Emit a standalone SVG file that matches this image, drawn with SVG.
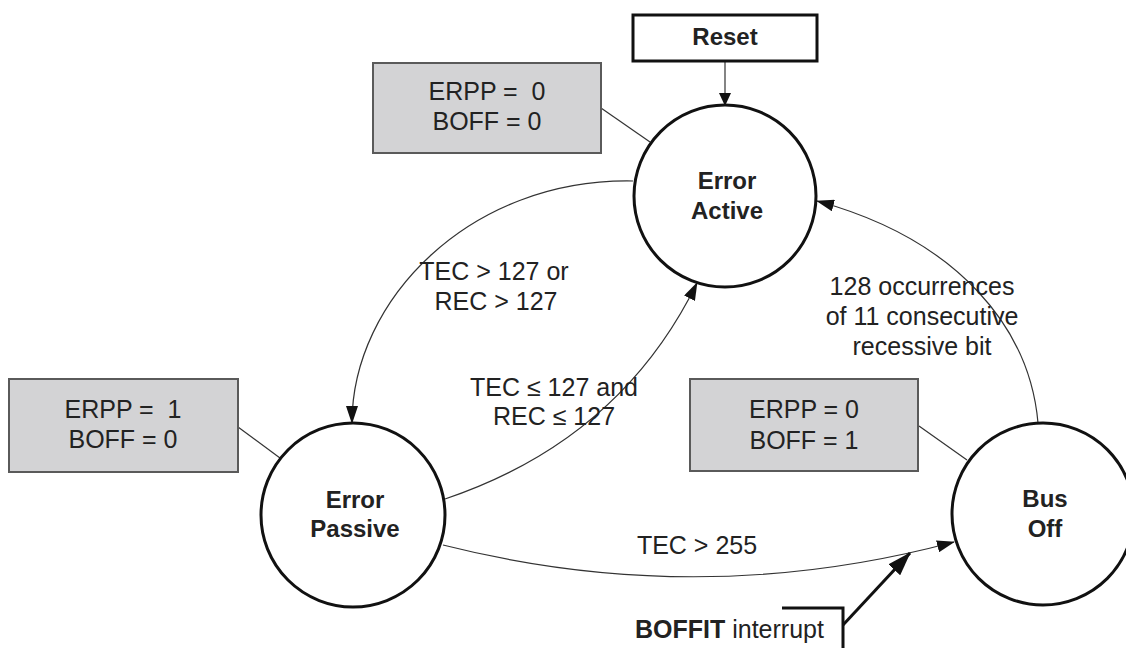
<svg xmlns="http://www.w3.org/2000/svg" width="1126" height="648" viewBox="0 0 1126 648">
  <style>
    .state { fill: #ffffff; stroke: #111111; stroke-width: 3; }
    .flags { fill: #d3d3d5; stroke: #5a5a5a; stroke-width: 2; }
    .resetbox { fill: #ffffff; stroke: #111111; stroke-width: 3; }
    .edge { fill: none; stroke: #333333; stroke-width: 1.2; }
    .thick { fill: none; stroke: #111111; stroke-width: 3; }
    .t { font-family: "Liberation Sans", Arial, Helvetica, sans-serif; font-size: 25px; fill: #222222; text-anchor: middle; white-space: pre; }
    .b { font-weight: bold; font-size: 24px; }
  </style>
  <defs>
    <marker id="arr" viewBox="0 0 18 12" markerWidth="18" markerHeight="12" refX="17" refY="6" orient="auto" markerUnits="userSpaceOnUse">
      <path d="M0,0 L18,6 L0,12 z" fill="#111111"/>
    </marker>
    <marker id="arrSmall" viewBox="0 0 13 12" markerWidth="13" markerHeight="12" refX="12" refY="6" orient="auto" markerUnits="userSpaceOnUse">
      <path d="M0,0 L13,6 L0,12 z" fill="#111111"/>
    </marker>
    <marker id="arrBig" viewBox="0 0 24 16" markerWidth="24" markerHeight="16" refX="23" refY="8" orient="auto" markerUnits="userSpaceOnUse">
      <path d="M0,0 L24,8 L0,16 z" fill="#111111"/>
    </marker>
  </defs>

  <g id="connectors">
    <!-- Reset to Error Active -->
    <line class="edge" x1="725" y1="61" x2="725" y2="105" marker-end="url(#arrSmall)"/>
    <!-- Error Active -> Error Passive -->
    <path class="edge" d="M633,181 C470,178 352,300 352,423" marker-end="url(#arr)"/>
    <!-- Error Passive -> Error Active -->
    <path class="edge" d="M445,499 Q620,440 697,283" marker-end="url(#arr)"/>
    <!-- Error Passive -> Bus Off -->
    <path class="edge" d="M443,545 Q700,610 954,542" marker-end="url(#arr)"/>
    <!-- Bus Off -> Error Active -->
    <path class="edge" d="M1038,423 C1030,330 960,240 817,201" marker-end="url(#arr)"/>
    <!-- flag box tethers -->
    <line class="edge" x1="601" y1="108" x2="650" y2="142"/>
    <line class="edge" x1="238" y1="427" x2="280" y2="458"/>
    <line class="edge" x1="919" y1="426" x2="967" y2="460"/>
    <!-- BOFFIT interrupt arrow -->
    <polyline class="thick" points="782,608 843,608 843,648"/>
    <line class="thick" x1="843" y1="625" x2="910" y2="553" marker-end="url(#arrBig)"/>
  </g>

  <g id="reset">
    <rect class="resetbox" x="633" y="15" width="184" height="46"/>
    <text class="t b" x="725" y="45">Reset</text>
  </g>

  <g id="error-active">
    <circle class="state" cx="725" cy="196" r="91"/>
    <text class="t b" x="727" y="189">Error</text>
    <text class="t b" x="727" y="219">Active</text>
  </g>

  <g id="error-passive">
    <circle class="state" cx="353" cy="515" r="92"/>
    <text class="t b" x="355" y="508">Error</text>
    <text class="t b" x="355" y="537">Passive</text>
  </g>

  <g id="bus-off">
    <circle class="state" cx="1043" cy="514" r="91"/>
    <text class="t b" x="1045" y="507">Bus</text>
    <text class="t b" x="1045" y="537">Off</text>
  </g>

  <g id="flags-active">
    <rect class="flags" x="373" y="63" width="228" height="90"/>
    <text class="t" x="487" y="100">ERPP =  0</text>
    <text class="t" x="487" y="130">BOFF = 0</text>
  </g>

  <g id="flags-passive">
    <rect class="flags" x="9" y="379" width="229" height="93"/>
    <text class="t" x="123" y="418">ERPP =  1</text>
    <text class="t" x="123" y="448">BOFF = 0</text>
  </g>

  <g id="flags-busoff">
    <rect class="flags" x="690" y="379" width="228" height="92"/>
    <text class="t" x="804" y="418">ERPP = 0</text>
    <text class="t" x="804" y="449">BOFF = 1</text>
  </g>

  <g id="labels">
    <text class="t" x="494" y="280">TEC &gt; 127 or</text>
    <text class="t" x="496" y="310">REC &gt; 127</text>
    <text class="t" x="554" y="396">TEC ≤ 127 and</text>
    <text class="t" x="554" y="425">REC ≤ 127</text>
    <text class="t" x="922" y="295">128 occurrences</text>
    <text class="t" x="922" y="325">of 11 consecutive</text>
    <text class="t" x="922" y="355">recessive bit</text>
    <text class="t" x="697" y="554">TEC &gt; 255</text>
    <text class="t" x="635" y="638" text-anchor="start" style="text-anchor:start"><tspan font-weight="bold">BOFFIT</tspan> interrupt</text>
  </g>
</svg>
